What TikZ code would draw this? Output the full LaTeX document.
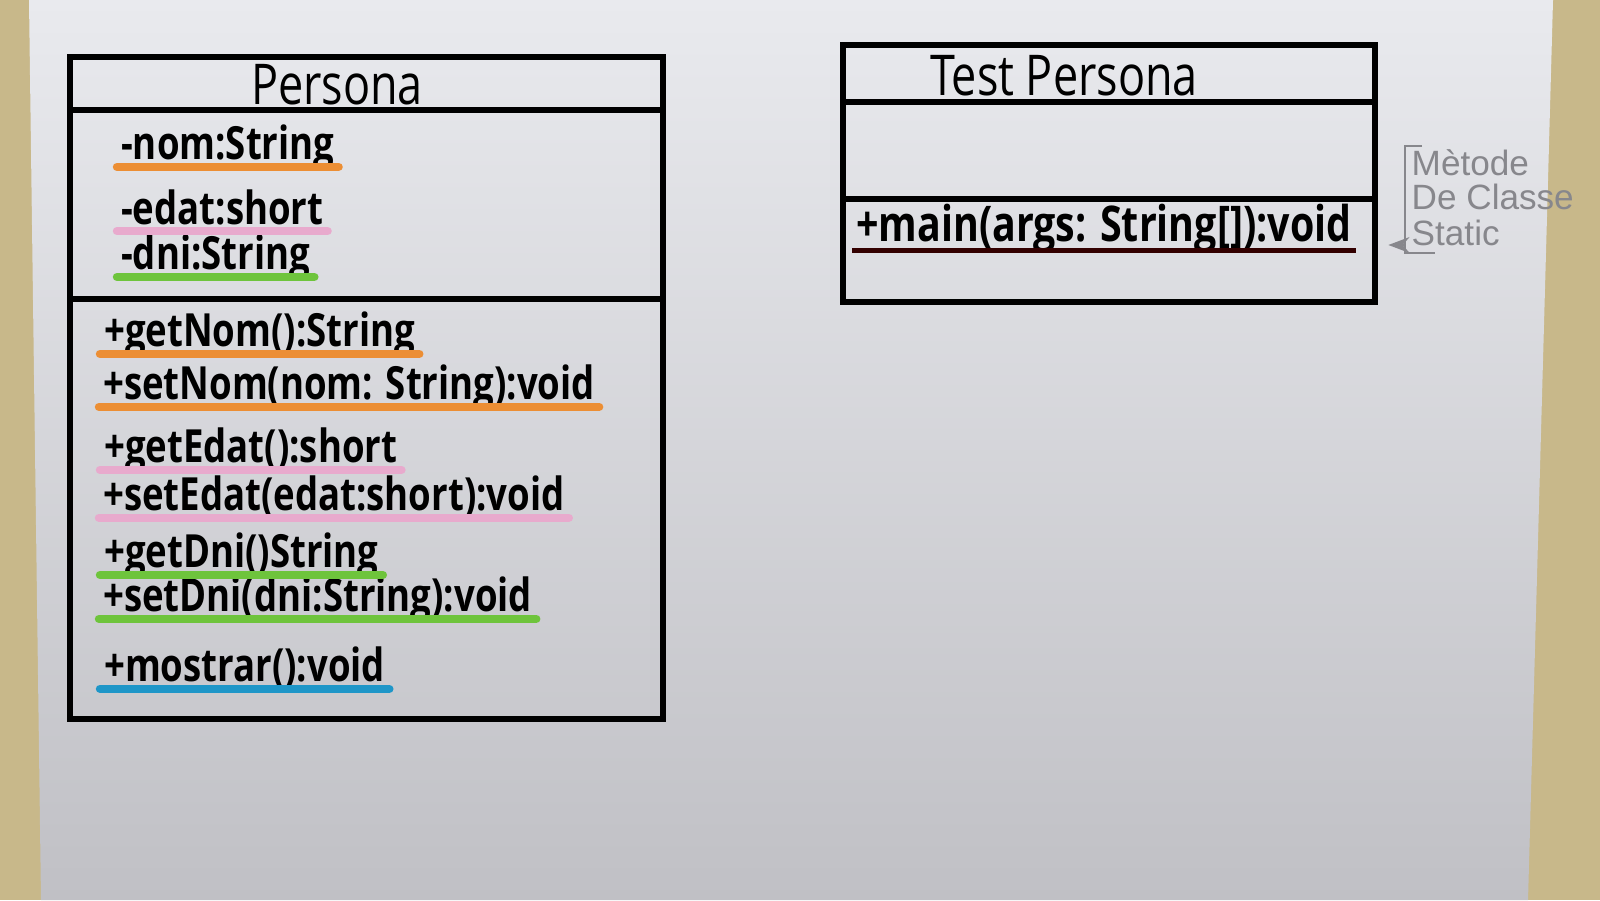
\documentclass[tikz,border=0pt]{standalone}
\usepackage{fontspec}
\setmainfont{Open Sans}
\newfontfamily\marker[FakeStretch=0.8]{Open Sans}
\newfontfamily\pencil{Liberation Sans}
\usetikzlibrary{positioning,calc,arrows.meta}
\definecolor{deskcolor}{RGB}{200,184,138}
\definecolor{papertop}{RGB}{233,234,238}
\definecolor{papermid}{RGB}{220,221,225}
\definecolor{paperbottom}{RGB}{192,192,197}
\definecolor{hlorange}{RGB}{236,142,52}
\definecolor{hlpink}{RGB}{232,170,205}
\definecolor{hlgreen}{RGB}{110,196,60}
\definecolor{hlblue}{RGB}{30,150,200}
\definecolor{pencilgray}{RGB}{135,135,140}

\begin{document}
\begin{tikzpicture}[
    umlbox/.style={rectangle, draw, line width=1.6pt, inner sep=0pt},
    divider/.style={line width=1.6pt},
    classname/.style={font=\marker\fontsize{16}{18}\selectfont},
    member/.style={anchor=west, inner sep=1pt, font=\marker\bfseries\fontsize{13}{15}\selectfont},
    hlline/.style={line width=2.4pt, line cap=round},
    note/.style={anchor=west, inner sep=0pt, text=pencilgray, font=\pencil\fontsize{10}{12}\selectfont},
]
    \useasboundingbox (0,0) rectangle (16,9);

    % Desk and sheet of paper
    \fill[deskcolor] (0,0) rectangle (16,9);
    \shade[top color=papertop, middle color=papermid, bottom color=paperbottom]
        (0.29,9) -- (15.53,9) -- (15.28,0) -- (0.41,0) -- cycle;

    % Class Persona
    \node[umlbox, minimum width=5.93cm, minimum height=6.62cm] (persona) at (3.665,5.12) {};
    \draw[divider] (persona.west |- 0,7.90) -- (persona.east |- 0,7.90);
    \draw[divider] (persona.west |- 0,6.01) -- (persona.east |- 0,6.01);
    \node[classname] (personaname) at (3.37,8.15) {Persona};

    % Attributes
    \node[member] (nom) at (1.17,7.52) {-nom:String};
    \node[member] (edat) at (1.17,6.93) {-edat:short};
    \node[member] (dni) at (1.17,6.42) {-dni:String};

    % Methods
    \node[member] (getnom) at (1.00,5.65) {+getNom():String};
    \node[member] (setnom) at (0.99,5.12) {+setNom(nom: String):void};
    \node[member] (getedat) at (1.00,4.49) {+getEdat():short};
    \node[member] (setedat) at (0.99,4.03) {+setEdat(edat:short):void};
    \node[member] (getdni) at (1.00,3.44) {+getDni()String};
    \node[member] (setdni) at (0.99,3.00) {+setDni(dni:String):void};
    \node[member] (mostrar) at (1.00,2.32) {+mostrar():void};

    % Highlighter underlines
    \draw[hlline, hlorange] ([yshift=-2pt]nom.base west) -- ([yshift=-2pt]nom.base east);
    \draw[hlline, hlpink] ([yshift=-2pt]edat.base west) -- ([yshift=-2pt]edat.base east);
    \draw[hlline, hlgreen] ([yshift=-2pt]dni.base west) -- ([yshift=-2pt]dni.base east);
    \draw[hlline, hlorange] ([yshift=-2pt]getnom.base west) -- ([yshift=-2pt]getnom.base east);
    \draw[hlline, hlorange] ([yshift=-2pt]setnom.base west) -- ([yshift=-2pt]setnom.base east);
    \draw[hlline, hlpink] ([yshift=-2pt]getedat.base west) -- ([yshift=-2pt]getedat.base east);
    \draw[hlline, hlpink] ([yshift=-2pt]setedat.base west) -- ([yshift=-2pt]setedat.base east);
    \draw[hlline, hlgreen] ([yshift=-2pt]getdni.base west) -- ([yshift=-2pt]getdni.base east);
    \draw[hlline, hlgreen] ([yshift=-2pt]setdni.base west) -- ([yshift=-2pt]setdni.base east);
    \draw[hlline, hlblue] ([yshift=-2pt]mostrar.base west) -- ([yshift=-2pt]mostrar.base east);

    % Class Test Persona
    \node[umlbox, minimum width=5.32cm, minimum height=2.57cm] (testpersona) at (11.09,7.265) {};
    \draw[divider] (testpersona.west |- 0,7.98) -- (testpersona.east |- 0,7.98);
    \draw[divider] (testpersona.west |- 0,7.01) -- (testpersona.east |- 0,7.01);
    \node[classname] (testname) at (10.64,8.24) {Test Persona};
    \node[member, font=\marker\bfseries\fontsize{14}{16}\selectfont] (mainop) at (8.52,6.71) {+main(args: String[]):void};
    \draw[line width=1.3pt, black!80!red] ([yshift=-2.5pt]mainop.base west) -- ([yshift=-2.5pt]mainop.base east);

    % Note on the static method
    \node[note] (notemetode) at (14.11,7.37) {Mètode};
    \node[note] (noteclasse) at (14.11,7.03) {De Classe};
    \node[note] (notestatic) at (14.11,6.67) {Static};
    \draw[pencilgray, line width=0.7pt] (14.22,7.54) -- (14.05,7.54) -- (14.05,6.47) -- (14.35,6.47);
    \coordinate (notebrace) at (14.05,6.55);
    \draw[pencilgray, line width=0.7pt, -{Stealth[length=6pt]}] (notebrace) -- ([xshift=3pt]testpersona.east |- notebrace);
\end{tikzpicture}
\end{document}
